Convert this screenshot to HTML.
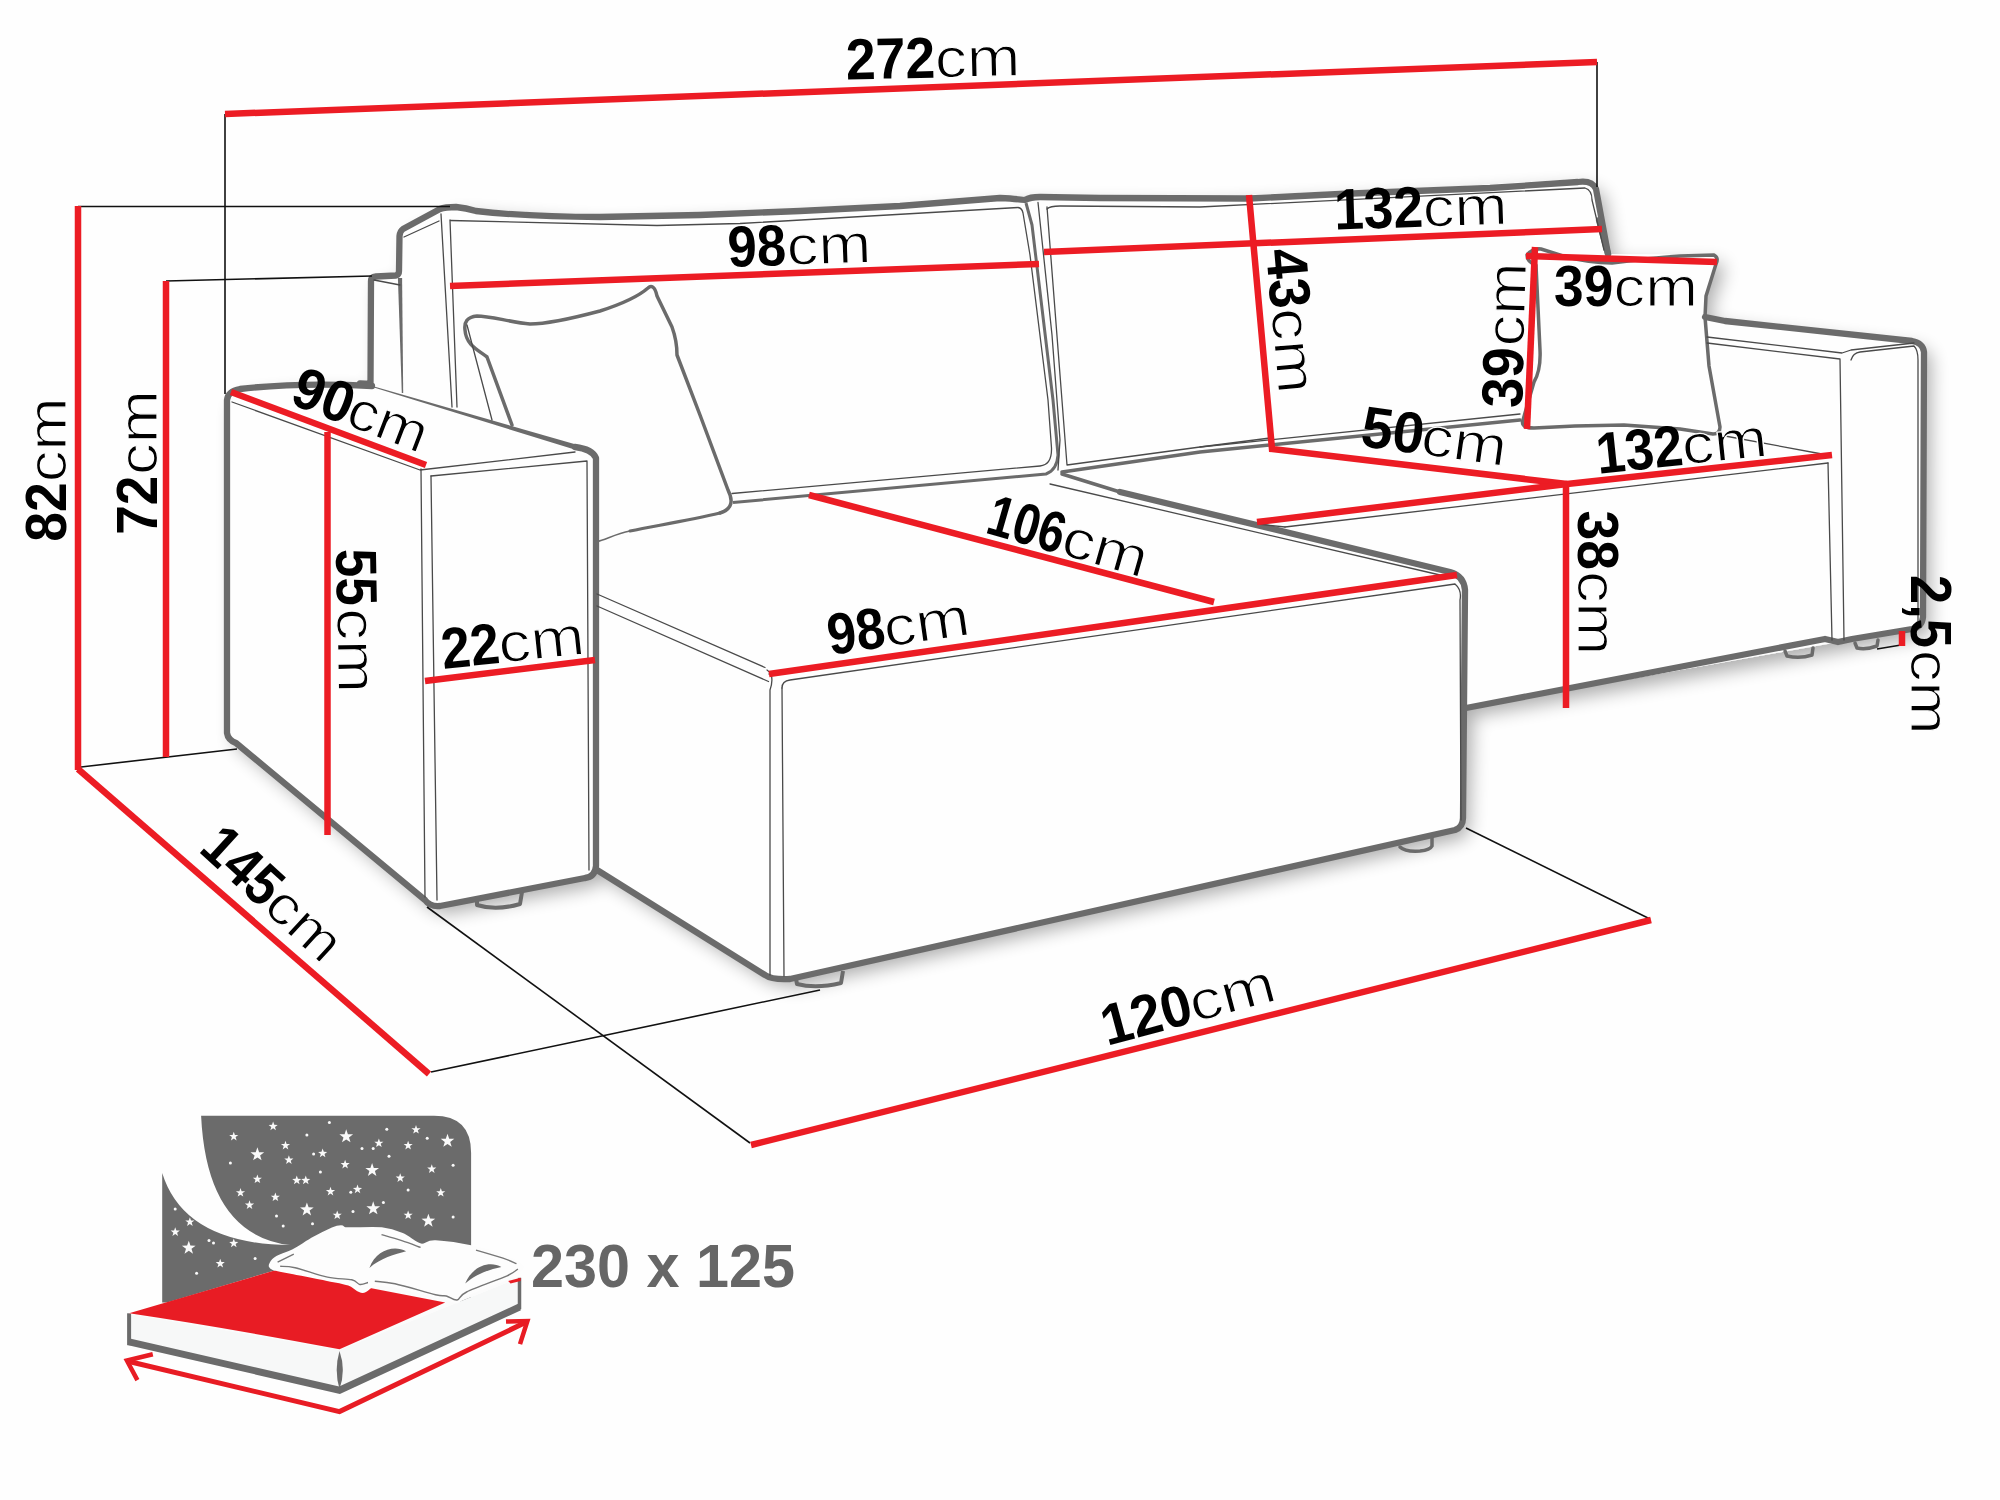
<!DOCTYPE html>
<html><head><meta charset="utf-8">
<style>
html,body{margin:0;padding:0;background:#fefefe;}
svg{display:block;}
text{font-family:"Liberation Sans",sans-serif;}
.g{fill:none;stroke:#6b6b6b;stroke-width:6.3;stroke-linejoin:round;stroke-linecap:round;}
.gm{fill:none;stroke:#6b6b6b;stroke-width:3.5;stroke-linejoin:round;stroke-linecap:round;}
.t{fill:none;stroke:#4a4a4a;stroke-width:1.3;stroke-linejoin:round;stroke-linecap:round;}
.r{fill:none;stroke:#ec1c24;stroke-width:6.5;stroke-linecap:butt;}
.k{fill:none;stroke:#111;stroke-width:1.6;}
.b{font-weight:bold;}
</style></head>
<body>
<svg width="2000" height="1500" viewBox="0 0 2000 1500">
<defs>
<filter id="sh" x="-10%" y="-10%" width="120%" height="130%">
<feGaussianBlur in="SourceAlpha" stdDeviation="9"/>
<feOffset dx="7" dy="8" result="o"/>
<feComponentTransfer><feFuncA type="linear" slope="0.32"/></feComponentTransfer>
<feMerge><feMergeNode/><feMergeNode in="SourceGraphic"/></feMerge>
</filter>
</defs>
<rect width="2000" height="1500" fill="#fefefe"/>

<!-- silhouette with shadow -->
<path id="sil" filter="url(#sh)" fill="#fefefe" d="M450,207 L600,217 L900,206 L1000,197 L1032,196 L1200,197 L1450,187 L1580,179 L1597,187 L1608,254 L1714,255 L1717,262 L1705,296 L1705,317 L1916,341 L1924,349 L1923,619 L1920,628 L1852,639 L1833,643 L1466,708 L1462,822 L1457,830 L790,979 L765,975 L597,870 L587,878 L437,906 L425,900 L235,742 L227,735 L227,400 L237,390 L300,384 L371,385 L371,282 L376,276 L396,276 L401,272 L400,240 L407,227 Z"/>

<!-- SOFA THICK OUTLINES -->
<g id="outl">
<!-- back top + left back arm -->
<path class="g" d="M360,383.5 L370.5,384 L371,281 Q371,277 376,276.5 L396,275.5 Q399,274.5 399,271 L399.5,236 Q400,231 403,229 L440,209 Q445,207 456,207 Q466,208 476,211 Q530,217 600,217 L700,215 L800,211 L900,206 L1000,198 Q1018,199 1025,200 Q1030,197 1040,197 L1100,198 L1250,198.5 L1340,194 L1490,188 L1578,182 Q1592,180 1596,189 L1608,254"/>
<!-- left armrest -->
<path class="g" d="M372,386 Q300,382 240,389 Q228,391 227,400 L227,733 Q228,740 236,743 L425,900 Q430,907 440,906 L585,878 Q595,877 596,866 L596,458 Q592,449 575,447"/>
<polygon fill="#6b6b6b" points="373.9,387.5 576.2,450.1 577.8,444.9 374.1,386.5"/>
<polygon fill="#6b6b6b" points="397.9,278.0 401.8,393.0 403.2,393.0 402.1,278.0"/>
<!-- chaise -->
<path class="g" d="M597,870 L765,975 Q772,980 790,979 L1455,830 Q1463,827 1463,818 L1465,590 Q1464,576 1450,572 L1120,492"/>
<!-- seat-back junctions (medium) -->
<path class="gm" d="M1062,474 L1120,492"/>
<path fill="none" stroke="#6b6b6b" stroke-width="3" stroke-linejoin="round" d="M733,502.5 L1046,474 Q1057,470 1058,455 L1053,400 L1032,225 L1026,203"/>
<path class="gm" d="M1062,472 L1200,452 L1520,420"/>
<!-- right arm -->
<path class="g" d="M1705,317 L1725,321 L1912,341 Q1923,343 1924,352 L1923,617 Q1922,627 1912,629 L1852,639 L1838,642 L1825,639 L1466,708"/>
<!-- left pillow -->
<path class="gm" d="M720,513 C733,509 733,500 728,490 L700,415 L677,355 C677,345 676,338 672,327 L657,296 C655,286 651,285 648,288 C640,295 625,303 600,311 C570,319 545,324 530,324 C510,322 490,316 477,316 C467,317 464,322 465,330 C466,345 478,350 487,357 L512,425"/>
<path fill="none" stroke="#6b6b6b" stroke-width="3" stroke-linecap="round" d="M720,513 C690,520 660,525 630,531"/>
<path fill="none" stroke="#6b6b6b" stroke-width="1.6" d="M630,531 C615,534 605,540 597,541.5"/>
<!-- right pillow -->
<path class="gm" d="M1527,255 Q1533,248 1541,249 L1563,256 Q1590,263 1612,263 Q1650,258 1680,256 L1714,255 Q1719,258 1716,264 L1706,296 L1705,317 L1709,366 L1720,427 Q1720,434 1713,434 L1680,429 L1624,425 L1575,426 L1534,428 Q1520,428 1523,420 L1534,382 Q1541,370 1540,350 L1536,265 Q1527,262 1527,255 Z"/>
<!-- back right edge -->
<path class="g" d="M1599,220 L1608,254"/>
<!-- feet -->
<path fill="none" stroke="#6b6b6b" stroke-width="4" stroke-linejoin="round" d="M477,896 L477,905 Q496,911 520,904 L522,892"/>
<path fill="none" stroke="#6b6b6b" stroke-width="4" stroke-linejoin="round" d="M796,979 L797,984 Q816,989 841,983 L843,971"/>
<path class="gm" d="M1400,847 Q1405,852 1420,851 Q1430,850 1432,846 L1432,838"/>
<path class="gm" d="M1785,651 L1787,656 Q1800,659 1812,655 L1813,648"/>
<path class="gm" d="M1855,643 L1857,648 Q1866,650 1877,646 L1878,640"/>
</g>

<!-- THIN INNER LINES -->
<g id="thin">
<path class="t" d="M404,237 L439,221"/>
<path class="t" d="M441,214 L452,407"/>
<path class="t" d="M450,220 L457,407"/>
<path class="t" d="M450.5,220.5 L657,225.5 L740,223.5 L1018,207.5 Q1022,208 1023,213 L1030,255 L1048,400 L1051.5,448 Q1052,465 1040,466 L732,493.5"/>
<path class="t" d="M374,280 L400,285"/>
<path class="t" d="M467,325 L492,420"/>
<path class="t" d="M232,402 L420,470 L575,452"/>
<path class="t" d="M421,469 L425,897"/>
<path class="t" d="M431,476 L587,461 L589,870"/>
<path class="t" d="M431,476 L437,900"/>

<path class="t" d="M597,594 L765,667.5"/>
<path class="t" d="M597,606 L768.5,681.5"/>
<path class="t" d="M767,670 Q775,675 770,690 L770,975"/>
<path class="t" d="M782,688 Q782,681 790,680 L1455,584 Q1462,590 1460,600 L1461,820"/>
<path class="t" d="M782,688 L784,976"/>
<path class="t" d="M769,674 L1445,576"/>
<path class="t" d="M1050,484 L1440,575"/>
<path class="t" d="M1047,207 L1067,465 L1200,447 L1270,438"/>
<path class="t" d="M1047,209 Q1050,206 1060,206 L1200,207 L1585,188 Q1592,190 1592,200 L1604,250"/>
<path class="t" d="M1038,202.5 L1052,335 L1060,440 L1058,470"/>
<path class="t" d="M1200,447 L1520,414"/>
<path class="t" d="M1725,436 L1822,454"/>
<path class="t" d="M1285,527 L1828,463"/>
<path class="t" d="M1828,463 L1832,640"/>
<path class="t" d="M1707,337 L1842,353 L1851,350 L1914,343"/>
<path class="t" d="M1707,343 L1840,359 L1844,640"/>
<path class="t" d="M1851,360 Q1853,353 1860,352 L1914,346 Q1918,350 1918,360 L1918,625"/>
<path class="t" d="M1258,524 L1285,527"/>
</g>

<!-- BLACK LEADER LINES -->
<g id="blk">
<path class="k" d="M225,114 L225,394"/>
<path class="k" d="M1597,62 L1597,187"/>
<path class="k" d="M78,206.5 L450,206.5"/>
<path class="k" d="M166,281 L372,276"/>
<path class="k" d="M81,767 L237,749"/>
<path class="k" d="M427,907 L750,1143"/>
<path class="k" d="M431,1072 L820,990"/>
<path class="k" d="M1466,828 L1650,919"/>
<path class="k" d="M1877,649 L1901,645"/>
</g>

<!-- RED DIMENSION LINES -->
<g id="red">
<path class="r" d="M225,114 L1597,62"/>
<path class="r" d="M78,206 L78,770"/>
<path class="r" d="M166,281 L166,757"/>
<path class="r" d="M78,769 L429,1074"/>
<path class="r" d="M327.5,432 L327.5,835"/>
<path class="r" d="M231,392 L426,465"/>
<path class="r" d="M425,681 L595,660"/>
<path class="r" d="M450,286 L1039,264"/>
<path class="r" d="M1044,252 L1602,229"/>
<path class="r" d="M1249,195 L1272,449 L1567,484"/>
<path class="r" d="M1567,484 L1832,455"/>
<path class="r" d="M1566,484 L1566,708"/>
<path class="r" d="M1257,522 L1567,484"/>
<path class="r" d="M809,495 L1214,602"/>
<path class="r" d="M769,674 L1457,575"/>
<path class="r" d="M1526,256 L1717,262"/>
<path class="r" d="M1535,247 L1527,429"/>
<path class="r" d="M751,1145 L1651,920"/>
<path class="r" d="M1902,631 L1902,646"/>
</g>

<!-- LABELS -->
<g id="labels">
<g transform="translate(848.0 79.5) rotate(-1.30)"><text x="-1.86" y="0" font-size="58" font-weight="bold" textLength="89.51" lengthAdjust="spacingAndGlyphs" fill="#000">272</text><text x="87.28" y="0" font-size="55" textLength="85.45" lengthAdjust="spacingAndGlyphs" fill="#000" stroke="#fefefe" stroke-width="1.2">cm</text></g>
<g transform="translate(730.0 267.0) rotate(-2.00)"><text x="-1.82" y="0" font-size="58" font-weight="bold" textLength="58.44" lengthAdjust="spacingAndGlyphs" fill="#000">98</text><text x="57.31" y="0" font-size="55" textLength="84.47" lengthAdjust="spacingAndGlyphs" fill="#000" stroke="#fefefe" stroke-width="1.2">cm</text></g>
<g transform="translate(1338.0 229.4) rotate(-1.80)"><text x="-3.36" y="0" font-size="58" font-weight="bold" textLength="89.10" lengthAdjust="spacingAndGlyphs" fill="#000">132</text><text x="85.29" y="0" font-size="55" textLength="84.90" lengthAdjust="spacingAndGlyphs" fill="#000" stroke="#fefefe" stroke-width="1.2">cm</text></g>
<g transform="translate(1266.0 251.0) rotate(85.00)"><text x="-0.81" y="0" font-size="58" font-weight="bold" textLength="59.75" lengthAdjust="spacingAndGlyphs" fill="#000">43</text><text x="58.78" y="0" font-size="55" textLength="85.45" lengthAdjust="spacingAndGlyphs" fill="#000" stroke="#fefefe" stroke-width="1.2">cm</text></g>
<g transform="translate(1522.0 407.0) rotate(-88.30)"><text x="-1.24" y="0" font-size="58" font-weight="bold" textLength="60.25" lengthAdjust="spacingAndGlyphs" fill="#000">39</text><text x="60.33" y="0" font-size="55" textLength="83.82" lengthAdjust="spacingAndGlyphs" fill="#000" stroke="#fefefe" stroke-width="1.2">cm</text></g>
<g transform="translate(1555.3 305.5) rotate(0.00)"><text x="-1.22" y="0" font-size="58" font-weight="bold" textLength="59.20" lengthAdjust="spacingAndGlyphs" fill="#000">39</text><text x="58.31" y="0" font-size="55" textLength="84.36" lengthAdjust="spacingAndGlyphs" fill="#000" stroke="#fefefe" stroke-width="1.2">cm</text></g>
<g transform="translate(1361.0 446.0) rotate(8.00)"><text x="-1.73" y="0" font-size="58" font-weight="bold" textLength="62.64" lengthAdjust="spacingAndGlyphs" fill="#000">50</text><text x="58.87" y="0" font-size="55" textLength="85.78" lengthAdjust="spacingAndGlyphs" fill="#000" stroke="#fefefe" stroke-width="1.2">cm</text></g>
<g transform="translate(1601.5 473.5) rotate(-6.00)"><text x="-3.28" y="0" font-size="58" font-weight="bold" textLength="86.86" lengthAdjust="spacingAndGlyphs" fill="#000">132</text><text x="82.78" y="0" font-size="55" textLength="85.34" lengthAdjust="spacingAndGlyphs" fill="#000" stroke="#fefefe" stroke-width="1.2">cm</text></g>
<g transform="translate(986.8 533.4) rotate(16.00)"><text x="-2.95" y="0" font-size="58" font-weight="bold" textLength="78.14" lengthAdjust="spacingAndGlyphs" fill="#000">106</text><text x="74.74" y="0" font-size="55" textLength="86.65" lengthAdjust="spacingAndGlyphs" fill="#000" stroke="#fefefe" stroke-width="1.2">cm</text></g>
<g transform="translate(832.0 654.7) rotate(-8.20)"><text x="-1.79" y="0" font-size="58" font-weight="bold" textLength="57.59" lengthAdjust="spacingAndGlyphs" fill="#000">98</text><text x="54.85" y="0" font-size="55" textLength="86.43" lengthAdjust="spacingAndGlyphs" fill="#000" stroke="#fefefe" stroke-width="1.2">cm</text></g>
<g transform="translate(290.0 403.6) rotate(21.00)"><text x="-1.91" y="0" font-size="58" font-weight="bold" textLength="61.16" lengthAdjust="spacingAndGlyphs" fill="#000">90</text><text x="57.40" y="0" font-size="55" textLength="81.64" lengthAdjust="spacingAndGlyphs" fill="#000" stroke="#fefefe" stroke-width="1.2">cm</text></g>
<g transform="translate(336.0 550.7) rotate(89.00)"><text x="-1.58" y="0" font-size="58" font-weight="bold" textLength="57.00" lengthAdjust="spacingAndGlyphs" fill="#000">55</text><text x="57.80" y="0" font-size="55" textLength="84.69" lengthAdjust="spacingAndGlyphs" fill="#000" stroke="#fefefe" stroke-width="1.2">cm</text></g>
<g transform="translate(445.0 668.7) rotate(-6.00)"><text x="-1.81" y="0" font-size="58" font-weight="bold" textLength="58.21" lengthAdjust="spacingAndGlyphs" fill="#000">22</text><text x="55.55" y="0" font-size="55" textLength="86.21" lengthAdjust="spacingAndGlyphs" fill="#000" stroke="#fefefe" stroke-width="1.2">cm</text></g>
<g transform="translate(66.2 540.0) rotate(-90.00)"><text x="-1.70" y="0" font-size="58" font-weight="bold" textLength="59.44" lengthAdjust="spacingAndGlyphs" fill="#000">82</text><text x="57.69" y="0" font-size="55" textLength="84.90" lengthAdjust="spacingAndGlyphs" fill="#000" stroke="#fefefe" stroke-width="1.2">cm</text></g>
<g transform="translate(156.8 532.4) rotate(-90.00)"><text x="-2.28" y="0" font-size="58" font-weight="bold" textLength="59.00" lengthAdjust="spacingAndGlyphs" fill="#000">72</text><text x="57.29" y="0" font-size="55" textLength="84.90" lengthAdjust="spacingAndGlyphs" fill="#000" stroke="#fefefe" stroke-width="1.2">cm</text></g>
<g transform="translate(200.0 853.0) rotate(42.50)"><text x="-3.27" y="0" font-size="58" font-weight="bold" textLength="86.72" lengthAdjust="spacingAndGlyphs" fill="#000">145</text><text x="83.36" y="0" font-size="55" textLength="82.73" lengthAdjust="spacingAndGlyphs" fill="#000" stroke="#fefefe" stroke-width="1.2">cm</text></g>
<g transform="translate(1110.3 1045.0) rotate(-15.00)"><text x="-3.46" y="0" font-size="58" font-weight="bold" textLength="91.72" lengthAdjust="spacingAndGlyphs" fill="#000">120</text><text x="87.22" y="0" font-size="55" textLength="87.08" lengthAdjust="spacingAndGlyphs" fill="#000" stroke="#fefefe" stroke-width="1.2">cm</text></g>
<g transform="translate(1578.0 511.7) rotate(90.00)"><text x="-1.23" y="0" font-size="58" font-weight="bold" textLength="59.47" lengthAdjust="spacingAndGlyphs" fill="#000">38</text><text x="59.22" y="0" font-size="55" textLength="84.25" lengthAdjust="spacingAndGlyphs" fill="#000" stroke="#fefefe" stroke-width="1.2">cm</text></g>
<g transform="translate(1911.0 576.8) rotate(90.00)"><text x="-1.82" y="0" font-size="58" font-weight="bold" textLength="72.88" lengthAdjust="spacingAndGlyphs" fill="#000">2,5</text><text x="72.89" y="0" font-size="55" textLength="84.90" lengthAdjust="spacingAndGlyphs" fill="#000" stroke="#fefefe" stroke-width="1.2">cm</text></g>
</g>

<!-- BED ICON -->
<g id="bed">
<path fill="#6b6b6b" d="M201.1,1115.8 L434.0,1115.8 Q471.1,1115.8 471.1,1152.9 L471.1,1302.5 L162.2,1302.5 L162.2,1173.1 Q184.2,1244.0 290.0,1245.1 Q206.8,1235.0 201.1,1115.8 Z"/>
<g fill="#fafafa"><polygon points="257.4,1147.3 259.1,1152.2 264.2,1152.3 260.1,1155.4 261.6,1160.3 257.4,1157.4 253.1,1160.3 254.6,1155.4 250.5,1152.3 255.7,1152.2"/><polygon points="346.2,1129.3 347.9,1134.2 353.1,1134.3 349.0,1137.4 350.5,1142.3 346.2,1139.4 342.0,1142.3 343.5,1137.4 339.4,1134.3 344.6,1134.2"/><polygon points="447.5,1133.8 449.2,1138.7 454.3,1138.8 450.2,1141.9 451.7,1146.8 447.5,1143.9 443.3,1146.8 444.8,1141.9 440.7,1138.8 445.8,1138.7"/><polygon points="372.1,1163.0 373.8,1167.9 379.0,1168.0 374.9,1171.1 376.4,1176.1 372.1,1173.1 367.9,1176.1 369.4,1171.1 365.3,1168.0 370.4,1167.9"/><polygon points="306.9,1202.4 308.6,1207.3 313.7,1207.4 309.6,1210.5 311.1,1215.4 306.9,1212.5 302.6,1215.4 304.1,1210.5 300.0,1207.4 305.2,1207.3"/><polygon points="373.2,1201.3 374.9,1206.2 380.1,1206.3 376.0,1209.4 377.5,1214.3 373.2,1211.4 369.0,1214.3 370.5,1209.4 366.4,1206.3 371.6,1206.2"/><polygon points="428.4,1213.7 430.1,1218.5 435.2,1218.7 431.1,1221.8 432.6,1226.7 428.4,1223.8 424.1,1226.7 425.6,1221.8 421.5,1218.7 426.7,1218.5"/><polygon points="188.8,1240.7 190.4,1245.5 195.6,1245.7 191.5,1248.8 193.0,1253.7 188.8,1250.8 184.5,1253.7 186.0,1248.8 181.9,1245.7 187.1,1245.5"/><polygon points="273.1,1121.6 274.3,1124.8 277.7,1124.9 275.0,1127.0 275.9,1130.3 273.1,1128.3 270.3,1130.3 271.3,1127.0 268.6,1124.9 272.0,1124.8"/><polygon points="233.8,1131.7 234.9,1134.9 238.3,1135.0 235.6,1137.1 236.6,1140.4 233.8,1138.4 230.9,1140.4 231.9,1137.1 229.2,1135.0 232.6,1134.9"/><polygon points="285.5,1140.7 286.6,1143.9 290.1,1144.0 287.3,1146.1 288.3,1149.4 285.5,1147.4 282.7,1149.4 283.7,1146.1 280.9,1144.0 284.4,1143.9"/><polygon points="322.6,1148.6 323.8,1151.8 327.2,1151.9 324.5,1154.0 325.4,1157.3 322.6,1155.3 319.8,1157.3 320.8,1154.0 318.1,1151.9 321.5,1151.8"/><polygon points="288.9,1155.3 290.0,1158.6 293.4,1158.6 290.7,1160.7 291.7,1164.0 288.9,1162.0 286.1,1164.0 287.0,1160.7 284.3,1158.6 287.7,1158.6"/><polygon points="378.9,1138.5 380.0,1141.7 383.4,1141.8 380.7,1143.8 381.7,1147.1 378.9,1145.2 376.1,1147.1 377.0,1143.8 374.3,1141.8 377.7,1141.7"/><polygon points="408.1,1140.7 409.3,1143.9 412.7,1144.0 410.0,1146.1 410.9,1149.4 408.1,1147.4 405.3,1149.4 406.3,1146.1 403.6,1144.0 407.0,1143.9"/><polygon points="416.0,1125.0 417.1,1128.2 420.6,1128.3 417.8,1130.3 418.8,1133.6 416.0,1131.7 413.2,1133.6 414.2,1130.3 411.4,1128.3 414.9,1128.2"/><polygon points="345.1,1159.8 346.3,1163.1 349.7,1163.1 347.0,1165.2 347.9,1168.5 345.1,1166.5 342.3,1168.5 343.3,1165.2 340.6,1163.1 344.0,1163.1"/><polygon points="431.8,1164.3 432.9,1167.6 436.3,1167.6 433.6,1169.7 434.6,1173.0 431.8,1171.0 428.9,1173.0 429.9,1169.7 427.2,1167.6 430.6,1167.6"/><polygon points="257.4,1174.5 258.5,1177.7 261.9,1177.8 259.2,1179.8 260.2,1183.1 257.4,1181.2 254.6,1183.1 255.5,1179.8 252.8,1177.8 256.2,1177.7"/><polygon points="296.8,1175.6 297.9,1178.8 301.3,1178.9 298.6,1181.0 299.6,1184.3 296.8,1182.3 293.9,1184.3 294.9,1181.0 292.2,1178.9 295.6,1178.8"/><polygon points="305.8,1175.6 306.9,1178.8 310.3,1178.9 307.6,1181.0 308.6,1184.3 305.8,1182.3 302.9,1184.3 303.9,1181.0 301.2,1178.9 304.6,1178.8"/><polygon points="400.2,1173.3 401.4,1176.6 404.8,1176.6 402.1,1178.7 403.1,1182.0 400.2,1180.0 397.4,1182.0 398.4,1178.7 395.7,1176.6 399.1,1176.6"/><polygon points="240.5,1188.0 241.6,1191.2 245.1,1191.3 242.3,1193.3 243.3,1196.6 240.5,1194.7 237.7,1196.6 238.7,1193.3 235.9,1191.3 239.4,1191.2"/><polygon points="275.4,1192.5 276.5,1195.7 279.9,1195.8 277.2,1197.8 278.2,1201.1 275.4,1199.2 272.6,1201.1 273.5,1197.8 270.8,1195.8 274.2,1195.7"/><polygon points="330.5,1186.8 331.6,1190.1 335.1,1190.1 332.3,1192.2 333.3,1195.5 330.5,1193.5 327.7,1195.5 328.7,1192.2 325.9,1190.1 329.4,1190.1"/><polygon points="357.5,1184.6 358.6,1187.8 362.1,1187.9 359.3,1190.0 360.3,1193.3 357.5,1191.3 354.7,1193.3 355.7,1190.0 352.9,1187.9 356.4,1187.8"/><polygon points="440.8,1188.0 441.9,1191.2 445.3,1191.3 442.6,1193.3 443.6,1196.6 440.8,1194.7 437.9,1196.6 438.9,1193.3 436.2,1191.3 439.6,1191.2"/><polygon points="249.5,1200.3 250.6,1203.6 254.1,1203.6 251.3,1205.7 252.3,1209.0 249.5,1207.0 246.7,1209.0 247.7,1205.7 244.9,1203.6 248.4,1203.6"/><polygon points="337.2,1210.5 338.4,1213.7 341.8,1213.8 339.1,1215.8 340.1,1219.1 337.2,1217.2 334.4,1219.1 335.4,1215.8 332.7,1213.8 336.1,1213.7"/><polygon points="408.1,1210.5 409.3,1213.7 412.7,1213.8 410.0,1215.8 410.9,1219.1 408.1,1217.2 405.3,1219.1 406.3,1215.8 403.6,1213.8 407.0,1213.7"/><polygon points="189.9,1217.2 191.0,1220.4 194.4,1220.5 191.7,1222.6 192.7,1225.9 189.9,1223.9 187.1,1225.9 188.0,1222.6 185.3,1220.5 188.7,1220.4"/><polygon points="175.2,1227.3 176.4,1230.6 179.8,1230.6 177.1,1232.7 178.1,1236.0 175.2,1234.0 172.4,1236.0 173.4,1232.7 170.7,1230.6 174.1,1230.6"/><polygon points="233.8,1238.6 234.9,1241.8 238.3,1241.9 235.6,1244.0 236.6,1247.3 233.8,1245.3 230.9,1247.3 231.9,1244.0 229.2,1241.9 232.6,1241.8"/><polygon points="220.2,1258.8 221.4,1262.1 224.8,1262.1 222.1,1264.2 223.1,1267.5 220.2,1265.5 217.4,1267.5 218.4,1264.2 215.7,1262.1 219.1,1262.1"/><circle cx="329.4" cy="1122.5" r="1.5"/><circle cx="306.9" cy="1134.9" r="1.5"/><circle cx="386.8" cy="1129.2" r="1.5"/><circle cx="427.2" cy="1138.2" r="1.5"/><circle cx="362.0" cy="1148.4" r="1.5"/><circle cx="373.2" cy="1148.4" r="1.5"/><circle cx="313.6" cy="1154.0" r="1.5"/><circle cx="389.0" cy="1156.2" r="1.5"/><circle cx="230.4" cy="1163.0" r="1.5"/><circle cx="320.4" cy="1172.0" r="1.5"/><circle cx="453.1" cy="1165.2" r="1.5"/><circle cx="408.1" cy="1190.0" r="1.5"/><circle cx="350.8" cy="1192.2" r="1.5"/><circle cx="383.4" cy="1202.4" r="1.5"/><circle cx="276.5" cy="1215.9" r="1.5"/><circle cx="353.0" cy="1211.4" r="1.5"/><circle cx="283.2" cy="1226.0" r="1.5"/><circle cx="312.5" cy="1223.8" r="1.5"/><circle cx="453.1" cy="1217.0" r="1.5"/><circle cx="175.2" cy="1209.1" r="1.5"/><circle cx="209.0" cy="1240.6" r="1.5"/><circle cx="213.5" cy="1242.9" r="1.5"/><circle cx="255.1" cy="1258.6" r="1.5"/><circle cx="196.6" cy="1273.2" r="1.5"/></g>
<path fill="#f7f8f8" d="M129.1,1313.8 L339.5,1349.8 L339.5,1392.5 L129.1,1345.2 Z"/>
<path fill="none" stroke="#6b6b6b" stroke-width="4" d="M129.1,1313.3 L129.1,1345.2"/>
<path fill="#f7f8f8" d="M339.5,1349.8 L519.5,1277.8 L519.5,1309.2 L339.5,1392.5 Z"/>
<path fill="none" stroke="#6b6b6b" stroke-width="3.5" d="M519.5,1277.8 L519.5,1309.2"/>
<path fill="none" stroke="#6b6b6b" stroke-width="7" stroke-linejoin="miter" d="M129.1,1341.9 L339.5,1390.2 L519.5,1307.0"/>
<path fill="#6b6b6b" d="M339.5,1350.9 Q346.2,1370.0 339.5,1389.1 Q333.9,1370.0 339.5,1350.9 Z"/>
<path fill="#fbfbfb" d="M129.1,1313.8 L276.5,1269.9 L519.5,1277.8 L339.5,1349.8 Z"/>
<path fill="#e81c24" d="M129.1,1313.3 L276.5,1269.9 L445.2,1302.5 L339.5,1349.3 Q222.5,1327.2 129.1,1313.3 Z"/>
<path fill="#e81c24" d="M508.2,1281.1 L520.6,1277.8 L520.6,1281.1 L510.5,1283.4 Z"/>
<path fill="#fdfdfd" stroke="#fdfdfd" stroke-width="5" stroke-linejoin="round" d="M272.1,1263.6 C272.8,1262.0 273.9,1260.2 277.6,1258.2 C281.2,1256.2 287.7,1254.6 293.8,1251.5 C299.8,1248.3 307.5,1242.9 314.0,1239.3 C320.5,1235.7 328.4,1231.8 332.9,1229.8 C337.4,1227.9 338.5,1227.8 341.0,1227.8 C343.5,1227.8 341.0,1229.5 347.8,1229.8 C354.5,1230.2 372.5,1228.9 381.5,1229.8 C390.5,1230.8 395.2,1232.5 401.8,1235.2 C408.3,1238.0 415.0,1244.8 420.6,1246.0 C426.3,1247.3 426.3,1242.2 435.5,1242.7 C444.7,1243.1 464.8,1246.4 476.0,1248.8 C487.2,1251.1 495.6,1253.9 503.0,1256.8 C510.4,1259.8 518.3,1263.8 520.5,1266.3 C522.8,1268.8 518.8,1269.9 516.5,1271.7 C514.2,1273.5 515.4,1273.5 507.1,1277.1 C498.7,1280.7 474.9,1289.4 466.6,1293.3 C458.2,1297.2 460.5,1300.0 457.1,1300.7 C453.7,1301.4 456.7,1299.9 446.3,1297.3 C435.9,1294.8 406.9,1287.6 395.0,1285.2 C383.1,1282.8 380.1,1282.3 374.8,1283.2 C369.4,1284.1 366.9,1290.6 362.6,1290.6 C358.3,1290.6 355.0,1285.2 349.1,1283.2 C343.2,1281.2 336.7,1280.4 327.5,1278.5 C318.3,1276.5 302.8,1273.5 293.8,1271.7 C284.8,1269.9 277.1,1269.0 273.5,1267.7 C269.9,1266.3 271.5,1265.2 272.1,1263.6 Z"/>
<path fill="none" stroke="#777" stroke-width="1.4" d="M280.2,1266.3 C282.7,1266.5 287.2,1265.9 295.1,1267.7 C303.0,1269.5 318.1,1275.1 327.5,1277.1 C336.9,1279.1 346.4,1278.6 351.8,1279.8 C357.2,1281.0 357.2,1284.1 359.9,1284.5 C362.6,1285.0 366.6,1282.8 368.0,1282.5"/>
<path fill="none" stroke="#777" stroke-width="1.4" d="M374.8,1281.2 C378.1,1281.6 384.9,1281.6 395.0,1283.8 C405.1,1286.1 426.9,1292.6 435.5,1294.7 C444.1,1296.7 442.7,1295.1 446.3,1296.0 C449.9,1296.9 453.7,1300.7 457.1,1300.0 C460.5,1299.4 458.2,1296.0 466.6,1292.0 C474.9,1287.9 498.5,1279.6 507.1,1275.8 C515.6,1271.9 516.1,1270.1 517.9,1269.0"/>
<path fill="none" stroke="#777" stroke-width="1.4" d="M381.5,1234.6 C384.9,1235.6 395.2,1238.5 401.8,1240.7 C408.3,1242.8 417.5,1246.3 420.6,1247.4"/>
<path fill="none" stroke="#777" stroke-width="1.4" d="M476.0,1250.1 C480.5,1251.4 496.2,1256.0 503.0,1258.2 C509.8,1260.5 514.2,1262.7 516.5,1263.6"/>
<path fill="none" stroke="#777" stroke-width="1.4" d="M277.6,1262.2 C280.2,1260.9 291.1,1255.5 293.8,1254.2"/>
<path fill="#6b6b6b" d="M369.4,1267.9 C376.1,1250.1 393.6,1244.7 406.1,1251.2 C395.0,1254.2 380.1,1258.2 369.4,1267.9 Z"/>
<path fill="#6b6b6b" d="M465.2,1283.6 C472.0,1266.3 489.5,1260.2 501.4,1267.0 C489.5,1269.7 476.0,1273.7 465.2,1283.6 Z"/>
<path fill="none" stroke="#e81c24" stroke-width="5" stroke-linejoin="miter" d="M126.9,1361.0 L339.5,1411.6 L527.4,1321.6"/>
<path fill="none" stroke="#e81c24" stroke-width="4.5" stroke-linecap="butt" d="M152.8,1354.2 L126.9,1360.5 L137.4,1380.1"/>
<path fill="none" stroke="#e81c24" stroke-width="4.5" stroke-linecap="butt" d="M506.0,1321.6 L527.4,1321.0 L520.0,1344.1"/>
<text x="531" y="1286.6" font-size="62" font-weight="bold" fill="#666666" textLength="264" lengthAdjust="spacingAndGlyphs">230 x 125</text>
</g>
</svg>
</body></html>
